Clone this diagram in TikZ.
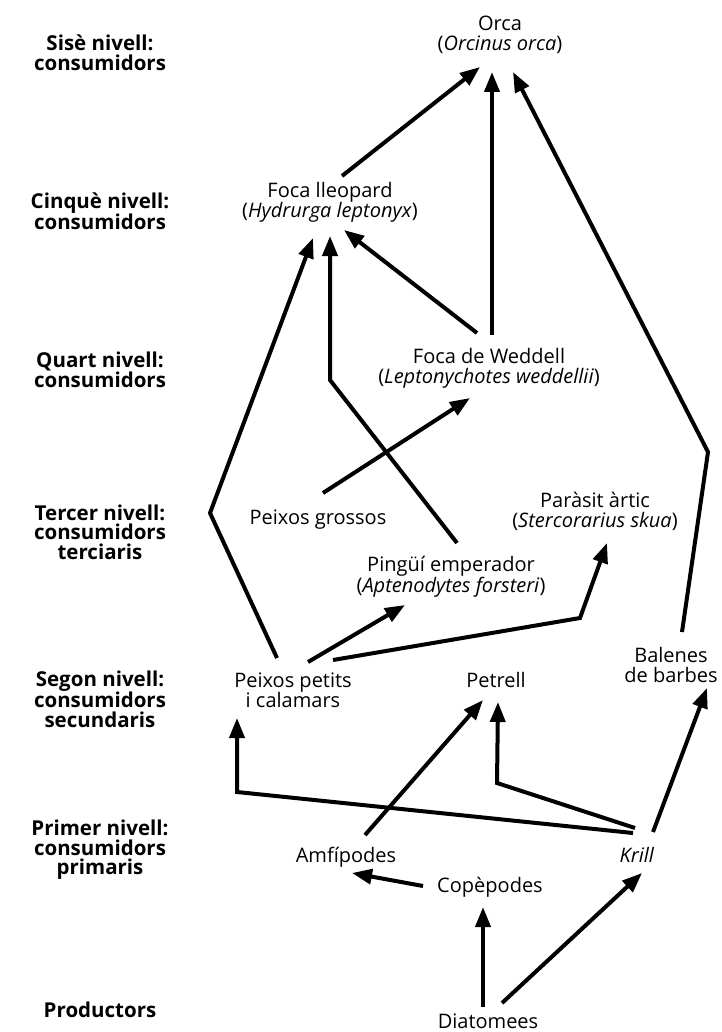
\documentclass[tikz,border=0pt]{standalone}
\usepackage{fontspec}
\setmainfont{Open Sans}
\usetikzlibrary{arrows.meta}
\begin{document}
\begin{tikzpicture}[x=1pt,y=-1pt,
  txt/.style={align=center,inner sep=0pt,font=\fontsize{20}{20}\selectfont},
  lvl/.style={align=center,inner sep=0pt,font=\bfseries\fontsize{20.5}{19.5}\selectfont},
  link/.style={line width=4pt,miter limit=10,-{Triangle[length=20pt,width=15pt]}}]
\useasboundingbox (0,0) rectangle (721,1032);
% level labels
\node[lvl] (l6) at (100,53) {Sisè nivell:\\consumidors};
\node[lvl] (l5) at (100,211) {Cinquè nivell:\\consumidors};
\node[lvl] (l4) at (100,370) {Quart nivell:\\consumidors};
\node[lvl] (l3) at (100,532) {Tercer nivell:\\consumidors\\terciaris};
\node[lvl] (l2) at (100,699) {Segon nivell:\\consumidors\\secundaris};
\node[lvl] (l1) at (100,850) {Primer nivell:\\consumidors\\primaris};
\node[lvl] (l0) at (100,1010) {Productors};
% species
\node[txt] (orca) at (500,35) {Orca\\(\textit{Orcinus orca})};
\node[txt] (lleo) at (330,202) {Foca lleopard\\(\textit{Hydrurga leptonyx})};
\node[txt] (wedd) at (489,368) {Foca de Weddell\\(\textit{Leptonychotes weddellii})};
\node[txt] (gros) at (318,520) {Peixos grossos};
\node[txt] (para) at (595,511) {Paràsit àrtic\\(\textit{Stercorarius skua})};
\node[txt] (ping) at (451,577) {Pingüí emperador\\(\textit{Aptenodytes forsteri})};
\node[txt] (peti) at (293,690) {Peixos petits\\i calamars};
\node[txt] (petr) at (496,680) {Petrell};
\node[txt] (bale) at (671,665) {Balenes\\de barbes};
\node[txt] (amfi) at (346,857) {Amfípodes};
\node[txt] (kril) at (637,855) {\textit{Krill}};
\node[txt] (cope) at (490,887) {Copèpodes};
\node[txt] (diat) at (488,1021) {Diatomees};
% connector end points
\coordinate (lleoT) at (342,176); \coordinate (orcaA) at (480,67);
\coordinate (weddT) at (492,335); \coordinate (orcaB) at (492,72);
\coordinate (baleT) at (682,632); \coordinate (k1) at (708,452); \coordinate (orcaC) at (513,72);
\coordinate (petiA) at (277,658); \coordinate (k2) at (210,513); \coordinate (lleoA) at (313,238);
\coordinate (pingT) at (457,543); \coordinate (k3) at (330,380); \coordinate (lleoB) at (330,236);
\coordinate (weddL) at (477,333); \coordinate (lleoC) at (344,230);
\coordinate (grosT) at (323,493); \coordinate (weddA) at (470,398);
\coordinate (petiB) at (308,662); \coordinate (pingA) at (405,605);
\coordinate (petiC) at (333,660); \coordinate (k4) at (580,618); \coordinate (paraA) at (607,543);
\coordinate (krilA) at (633,833); \coordinate (k5) at (237,792); \coordinate (petiD) at (237,718);
\coordinate (krilB) at (635,828); \coordinate (k6) at (497,783); \coordinate (petrA) at (498,702);
\coordinate (amfiT) at (365,835); \coordinate (petrB) at (483,700);
\coordinate (krilC) at (653,832); \coordinate (baleA) at (707,688);
\coordinate (copeT) at (423,886); \coordinate (amfiA) at (352,873);
\coordinate (diatA) at (483,1007); \coordinate (copeA) at (483,907);
\coordinate (diatB) at (502,1003); \coordinate (krilD) at (642,873);
% connectors
\draw[link] (lleoT) -- (orcaA);
\draw[link] (weddT) -- (orcaB);
\draw[link] (baleT) -- (k1) -- (orcaC);
\draw[link] (petiA) -- (k2) -- (lleoA);
\draw[link] (pingT) -- (k3) -- (lleoB);
\draw[link] (weddL) -- (lleoC);
\draw[link] (grosT) -- (weddA);
\draw[link] (petiB) -- (pingA);
\draw[link] (petiC) -- (k4) -- (paraA);
\draw[link] (krilA) -- (k5) -- (petiD);
\draw[link] (krilB) -- (k6) -- (petrA);
\draw[link] (amfiT) -- (petrB);
\draw[link] (krilC) -- (baleA);
\draw[link] (copeT) -- (amfiA);
\draw[link] (diatA) -- (copeA);
\draw[link] (diatB) -- (krilD);
\end{tikzpicture}
\end{document}
